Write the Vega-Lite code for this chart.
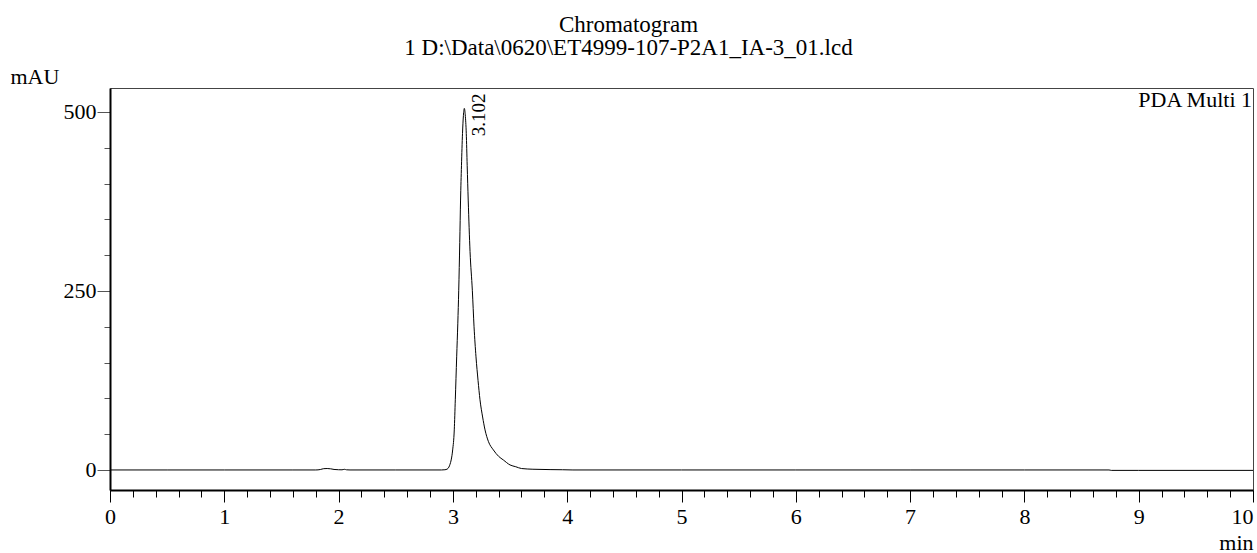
{
  "$schema": "https://vega.github.io/schema/vega-lite/v6.json",
  "width": 1143,
  "height": 402,
  "autosize": {"type": "none"},
  "padding": {"left": 110, "top": 88, "right": 4, "bottom": 63},
  "background": "white",
  "config": {
    "font": "Liberation Serif",
    "view": {"stroke": "#444", "strokeWidth": 1}
  },
  "title": {
    "text": ["Chromatogram", "1 D:\\Data\\0620\\ET4999-107-P2A1_IA-3_01.lcd"],
    "font": "Liberation Serif",
    "fontSize": 23,
    "fontWeight": "normal",
    "color": "black",
    "anchor": "middle",
    "dx": -53,
    "lineHeight": 23,
    "offset": 5
  },
  "datasets": {
    "trace": [
      {"t": 0, "v": 0}, {"t": 0.5, "v": 0}, {"t": 1.0, "v": 0}, {"t": 1.6, "v": 0},
      {"t": 1.8, "v": 0}, {"t": 1.84, "v": 0.6}, {"t": 1.87, "v": 1.8}, {"t": 1.9, "v": 2.0},
      {"t": 1.93, "v": 1.6}, {"t": 1.96, "v": 0.7}, {"t": 2.0, "v": 0.3}, {"t": 2.03, "v": 0.2},
      {"t": 2.05, "v": 0.9}, {"t": 2.07, "v": 0.2}, {"t": 2.1, "v": 0}, {"t": 2.5, "v": 0},
      {"t": 2.9, "v": 0}, {"t": 2.93, "v": 0.3}, {"t": 2.95, "v": 1.2}, {"t": 2.965, "v": 4},
      {"t": 2.975, "v": 8}, {"t": 2.985, "v": 14}, {"t": 2.998, "v": 28}, {"t": 3.012, "v": 56},
      {"t": 3.021, "v": 98}, {"t": 3.033, "v": 158}, {"t": 3.043, "v": 205}, {"t": 3.051, "v": 251},
      {"t": 3.06, "v": 318}, {"t": 3.067, "v": 377}, {"t": 3.075, "v": 425}, {"t": 3.084, "v": 470},
      {"t": 3.092, "v": 495}, {"t": 3.1, "v": 505}, {"t": 3.108, "v": 496}, {"t": 3.117, "v": 470},
      {"t": 3.125, "v": 425}, {"t": 3.134, "v": 377}, {"t": 3.15, "v": 305}, {"t": 3.17, "v": 251},
      {"t": 3.185, "v": 200}, {"t": 3.202, "v": 158}, {"t": 3.22, "v": 125}, {"t": 3.237, "v": 98},
      {"t": 3.26, "v": 74}, {"t": 3.281, "v": 56}, {"t": 3.31, "v": 40}, {"t": 3.354, "v": 28},
      {"t": 3.4, "v": 19}, {"t": 3.441, "v": 14}, {"t": 3.5, "v": 7}, {"t": 3.55, "v": 4.5},
      {"t": 3.6, "v": 2}, {"t": 3.7, "v": 1}, {"t": 3.85, "v": 0.5}, {"t": 3.96, "v": 0.3},
      {"t": 4.05, "v": 0}, {"t": 5, "v": 0}, {"t": 6, "v": 0}, {"t": 7, "v": 0},
      {"t": 8, "v": 0}, {"t": 8.74, "v": 0}, {"t": 8.76, "v": -0.6}, {"t": 9, "v": -0.6},
      {"t": 10, "v": -0.6}
    ],
    "peaks": [{"t": 3.102, "v": 505, "label": "3.102"}],
    "channel": [{"label": "PDA Multi 1"}]
  },
  "layer": [
    {
      "data": {"name": "trace"},
      "mark": {"type": "line", "color": "black", "strokeWidth": 1, "interpolate": "monotone"},
      "encoding": {
        "x": {
          "field": "t",
          "type": "quantitative",
          "scale": {"domain": [0, 10], "nice": false, "zero": false},
          "axis": {
            "values": [0, 0.2, 0.4, 0.6, 0.8, 1, 1.2, 1.4, 1.6, 1.8, 2, 2.2, 2.4, 2.6, 2.8, 3, 3.2, 3.4, 3.6, 3.8, 4, 4.2, 4.4, 4.6, 4.8, 5, 5.2, 5.4, 5.6, 5.8, 6, 6.2, 6.4, 6.6, 6.8, 7, 7.2, 7.4, 7.6, 7.8, 8, 8.2, 8.4, 8.6, 8.8, 9, 9.2, 9.4, 9.6, 9.8, 10],
            "tickCount": 200,
            "labelExpr": "datum.value % 1 == 0 ? format(datum.value, 'd') : ''",
            "labelFontSize": 22,
            "labelFont": "Liberation Serif",
            "labelColor": "black",
            "labelPadding": 4,
            "labelFlush": false,
            "labelOverlap": false,
            "labelBound": false,
            "labelAlign": {"condition": {"test": "datum.value == 10", "value": "right"}, "value": "center"},
            "tickSize": {"condition": {"test": "datum.value % 1 == 0", "value": 12}, "value": 7},
            "tickColor": "black",
            "tickWidth": 1,
            "domainColor": "black",
            "domainWidth": 2,
            "grid": false,
            "title": "min",
            "titleFont": "Liberation Serif",
            "titleFontSize": 22,
            "titleFontWeight": "normal",
            "titleColor": "black",
            "titleX": 1143,
            "titleY": 59,
            "titleAlign": "right",
            "titleBaseline": "alphabetic"
          }
        },
        "y": {
          "field": "v",
          "type": "quantitative",
          "scale": {"domain": [-28, 533.5], "nice": false, "zero": false},
          "axis": {
            "values": [0, 50, 100, 150, 200, 250, 300, 350, 400, 450, 500],
            "tickCount": 100,
            "labelExpr": "datum.value % 250 == 0 ? format(datum.value, 'd') : ''",
            "labelFontSize": 22,
            "labelFont": "Liberation Serif",
            "labelColor": "black",
            "labelPadding": 1,
            "labelOverlap": false,
            "labelBound": false,
            "labelFlush": false,
            "tickSize": {"condition": {"test": "datum.value % 250 == 0", "value": 13}, "value": 6},
            "tickColor": "#555",
            "tickWidth": 1,
            "domainColor": "black",
            "domainWidth": 2,
            "grid": false,
            "title": "mAU",
            "titleFont": "Liberation Serif",
            "titleFontSize": 22,
            "titleFontWeight": "normal",
            "titleColor": "black",
            "titleAngle": 0,
            "titleX": -100,
            "titleY": -5,
            "titleAlign": "left",
            "titleBaseline": "alphabetic"
          }
        }
      }
    },
    {
      "data": {"name": "peaks"},
      "mark": {"type": "text", "angle": 270, "align": "right", "baseline": "middle", "dx": 15, "dy": 14, "fontSize": 19, "font": "Liberation Serif", "color": "black"},
      "encoding": {
        "x": {"field": "t", "type": "quantitative"},
        "y": {"field": "v", "type": "quantitative"},
        "text": {"field": "label"}
      }
    },
    {
      "data": {"name": "channel"},
      "mark": {"type": "text", "align": "right", "baseline": "top", "dx": -1, "dy": 2, "fontSize": 22, "font": "Liberation Serif", "color": "black"},
      "encoding": {
        "x": {"datum": 10, "type": "quantitative"},
        "y": {"datum": 533.5, "type": "quantitative"},
        "text": {"field": "label"}
      }
    }
  ]
}
